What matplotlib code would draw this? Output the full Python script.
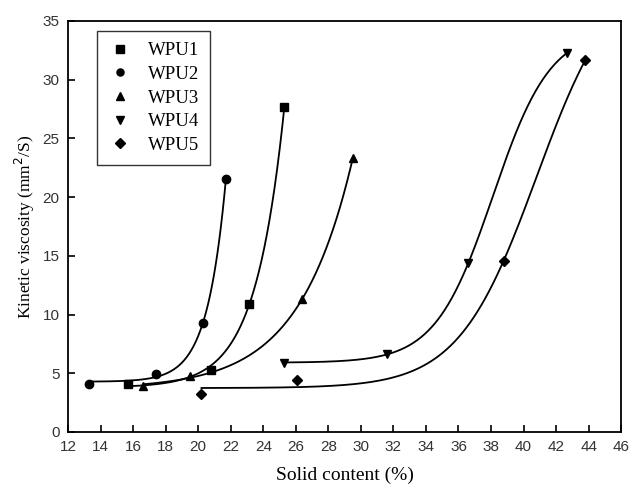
import numpy as np
import matplotlib
matplotlib.use("Agg")
import matplotlib.pyplot as plt

# solid content (%) and kinetic viscosity (mm2/s)
wpu1_x = [15.7, 20.8, 23.1, 25.3]
wpu1_y = [4.1, 5.3, 10.9, 27.7]
wpu2_x = [13.3, 17.4, 20.3, 21.7]
wpu2_y = [4.1, 4.9, 9.3, 21.5]
wpu3_x = [16.6, 19.5, 26.4, 29.5]
wpu3_y = [3.9, 4.8, 11.3, 23.3]
wpu4_x = [25.3, 31.6, 36.6, 42.7]
wpu4_y = [5.9, 6.6, 14.4, 32.3]
wpu5_x = [20.2, 26.1, 38.8, 43.8]
wpu5_y = [3.2, 4.4, 14.6, 31.7]

labels = ["WPU1", "WPU2", "WPU3", "WPU4", "WPU5"]
markers = ["s", "o", "^", "v", "D"]


def fit_exp(x, y):
    # y = y0 + A*exp(x/t), grid over t, linear lstsq for y0, A
    x = np.asarray(x); y = np.asarray(y)
    best = None
    for t in np.linspace(0.3, 6, 400):
        M = np.column_stack([np.ones_like(x), np.exp((x - x.max()) / t)])
        c, *_ = np.linalg.lstsq(M, y, rcond=None)
        r = np.sum((M @ c - y) ** 2)
        if best is None or r < best[0]:
            best = (r, t, c)
    _, t, c = best
    return lambda xx: c[0] + c[1] * np.exp((xx - x.max()) / t)


def fit_boltz(x, y):
    # y = A2 + (A1-A2)/(1+exp((x-x0)/dx))
    x = np.asarray(x); y = np.asarray(y)
    best = None
    for x0 in np.linspace(34, 44, 120):
        for dx in np.linspace(1.0, 5, 120):
            s = 1 / (1 + np.exp((x - x0) / dx))
            M = np.column_stack([s, 1 - s])
            c, *_ = np.linalg.lstsq(M, y, rcond=None)
            if c[1] > 40:
                continue
            r = np.sum((M @ c - y) ** 2)
            if best is None or r < best[0]:
                best = (r, x0, dx, c)
    _, x0, dx, c = best
    def f(xx):
        s = 1 / (1 + np.exp((xx - x0) / dx))
        return c[0] * s + c[1] * (1 - s)
    return f


fig = plt.figure(figsize=(6.3, 4.87), dpi=100)
ax = fig.add_axes([0.108, 0.113, 0.878, 0.844])

series = [(wpu1_x, wpu1_y, "exp"), (wpu2_x, wpu2_y, "exp"),
          (wpu3_x, wpu3_y, "exp"), (wpu4_x, wpu4_y, "boltz"),
          (wpu5_x, wpu5_y, "boltz")]

for (xs, ys, kind), lab, m in zip(series, labels, markers):
    f = fit_exp(xs, ys) if kind == "exp" else fit_boltz(xs, ys)
    xx = np.linspace(min(xs), max(xs), 300)
    ax.plot(xx, f(xx), color="black", lw=1.3)
    ms = 6 if m != "D" else 5.5
    ax.plot(xs, ys, linestyle="none", marker=m, color="black", ms=ms, label=lab)

ax.set_xlim(12, 46)
ax.set_ylim(0, 35)
ax.set_xticks(np.arange(12, 47, 2))
ax.set_yticks(np.arange(0, 36, 5))
ax.tick_params(direction="in", length=5, width=1.2, labelsize=11, pad=6)
for lbl in ax.get_xticklabels() + ax.get_yticklabels():
    lbl.set_family("Liberation Sans")
    lbl.set_color("#333333")
for sp in ax.spines.values():
    sp.set_linewidth(1.3)

ax.set_xlabel("Solid content (%)", family="Liberation Serif", fontsize=14, labelpad=9)
ax.set_ylabel("Kinetic viscosity (mm$^2$/S)", family="Liberation Serif", fontsize=12.5)

leg = ax.legend(loc="upper left", bbox_to_anchor=(0.052, 0.976), borderaxespad=0,
                frameon=True, fancybox=False, edgecolor="black",
                prop={"family": "Liberation Serif", "size": 13.5},
                handletextpad=0.87, labelspacing=0.35, borderpad=0.6,
                handlelength=1.25, markerscale=0.85)
leg.get_frame().set_linewidth(1.0)

fig.savefig("out.png", dpi=100)
